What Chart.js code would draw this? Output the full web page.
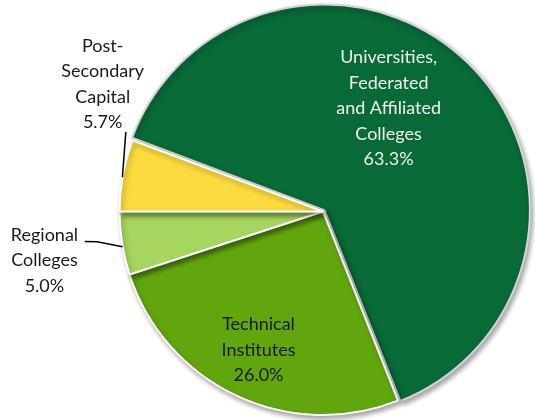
<!DOCTYPE html>
<html>
<head>
<meta charset="utf-8">
<script src="https://cdn.jsdelivr.net/npm/chart.js@4"></script>
<style>
  html, body { margin: 0; padding: 0; background: #fff; }
  #wrap { width: 535px; height: 420px; }
</style>
</head>
<body>
<div id="wrap"><canvas id="myChart"></canvas></div>
<script>
const categories = ['Universities, Federated and Affiliated Colleges', 'Technical Institutes', 'Regional Colleges', 'Post-Secondary Capital'];
const labelLines = [
  ['Universities,', 'Federated', 'and Affiliated', 'Colleges'],
  ['Technical', 'Institutes'],
  ['Regional', 'Colleges'],
  ['Post-', 'Secondary', 'Capital']
];
const shares = [63.3, 26.0, 5.0, 5.7];
const colors = ['#086a37', '#62a60e', '#a6d65f', '#fcdb3f'];

// label placement: angle (deg clockwise from top) and distance as fraction of radius
const labelPos = [
  { angle: 32.5, r: 0.60, color: '#eef4ee' },
  { angle: 205, r: 0.75, color: '#1a1a1a' },
  { angle: 260, r: 1.39, color: '#1a1a1a' },
  { angle: 300, r: 1.25, color: '#1a1a1a' }
];
// leader lines as polar points
const leaders = [
  null,
  null,
  [[262.8, 1.18], [262.4, 1.12], [260, 1.0]],
  [[292, 1.045], [279.7, 1.0]]
];

function polar(cx, cy, R, deg, f) {
  const a = (deg - 90) * Math.PI / 180;
  return [cx + Math.cos(a) * R * f, cy + Math.sin(a) * R * f];
}

const shadowPlugin = {
  id: 'shadow',
  beforeDatasetsDraw(chart) {
    const ctx = chart.ctx;
    ctx.save();
    ctx.shadowColor = 'rgba(0,0,0,0.35)';
    ctx.shadowBlur = 5;
    ctx.shadowOffsetX = 2;
    ctx.shadowOffsetY = 3;
  },
  afterDatasetsDraw(chart) {
    chart.ctx.restore();
  }
};

const labelPlugin = {
  id: 'sliceLabels',
  afterDraw(chart) {
    const ctx = chart.ctx;
    const meta = chart.getDatasetMeta(0);
    const base = meta.data[1];
    const cx = base.x, cy = base.y, R = base.outerRadius;
    const lh = 25.5;
    ctx.save();
    ctx.font = '18px Lato, "Open Sans", sans-serif';
    ctx.textAlign = 'center';
    ctx.textBaseline = 'middle';
    shares.forEach((v, i) => {
      const lines = labelLines[i].concat([v.toFixed(1) + '%']);
      const p = labelPos[i];
      const [x, y] = polar(cx, cy, R, p.angle, p.r);
      ctx.fillStyle = p.color;
      lines.forEach((t, k) => {
        ctx.fillText(t, x, y + k * lh - (lines.length - 1) * lh / 2);
      });
      if (leaders[i]) {
        ctx.beginPath();
        ctx.strokeStyle = '#000';
        ctx.lineWidth = 1.5;
        leaders[i].forEach((pt, k) => {
          const [lx, ly] = polar(cx, cy, R, pt[0], pt[1]);
          if (k === 0) ctx.moveTo(lx, ly); else ctx.lineTo(lx, ly);
        });
        ctx.stroke();
      }
    });
    ctx.restore();
  }
};

new Chart(document.getElementById('myChart'), {
  type: 'pie',
  data: {
    labels: categories,
    datasets: [{
      data: shares,
      backgroundColor: colors,
      borderColor: ['#d4d4d4', '#ffffff', '#ffffff', '#ffffff'],
      borderWidth: 2,
      offset: [8, 0, 0, 0]
    }]
  },
  options: {
    responsive: true,
    maintainAspectRatio: false,
    animation: false,
    rotation: 290.5,
    layout: { padding: { left: 111, right: 0, top: 3, bottom: 0 } },
    plugins: {
      legend: { display: false },
      tooltip: { enabled: false }
    },
    events: []
  },
  plugins: [shadowPlugin, labelPlugin]
});
</script>
</body>
</html>
